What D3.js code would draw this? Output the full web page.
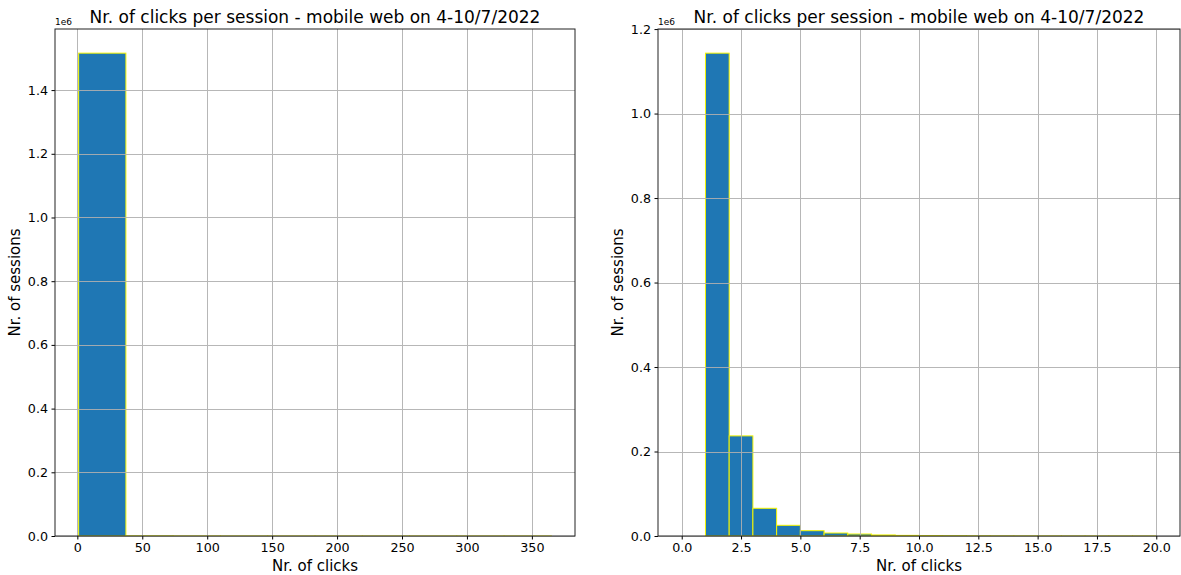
<!DOCTYPE html>
<html>
<head>
<meta charset="utf-8">
<script src="https://cdn.jsdelivr.net/npm/d3@7"></script>
<style>
  body { margin: 0; background: #fff; }
  svg { font-family: "DejaVu Sans", sans-serif; }
</style>
</head>
<body>
<svg id="chart" width="1181" height="575"></svg>
<script>
// left: histogram of all sessions, 10 bins over 1..365 clicks
var leftMin = 1, leftMax = 365;
var leftCounts = [1516000, 500, 150, 60, 30, 15, 8, 4, 2, 1];
var leftXTicks = [0, 50, 100, 150, 200, 250, 300, 350];
var leftYTicks = [0, 0.2e6, 0.4e6, 0.6e6, 0.8e6, 1.0e6, 1.2e6, 1.4e6];

// right: histogram restricted to 0..20 clicks, bins of width 1
var rightMin = 0, rightMax = 20;
var rightCounts = [0, 1143000, 237000, 65600, 25300, 12600, 7100, 4700, 2500, 1500,
                   1000, 700, 450, 300, 200, 150, 100, 70, 50, 30];
var rightXTicks = [0, 2.5, 5, 7.5, 10, 12.5, 15, 17.5, 20];
var rightYTicks = [0, 0.2e6, 0.4e6, 0.6e6, 0.8e6, 1.0e6, 1.2e6];

var titleText = "Nr. of clicks per session - mobile web on 4-10/7/2022";

var svg = d3.select("#chart");

function drawHist(opts) {
  var g = svg.append("g").attr("transform", `translate(${opts.left}, ${opts.top})`);
  var w = opts.width, h = opts.height;

  var n = opts.counts.length;
  var step = (opts.max - opts.min) / n;
  var bins = opts.counts.map((c, i) => ({x0: opts.min + i * step, x1: opts.min + (i + 1) * step, n: c}));

  var pad = (opts.max - opts.min) * 0.05;
  var x = d3.scaleLinear().domain([opts.min - pad, opts.max + pad]).range([0, w]);
  var y = d3.scaleLinear().domain([0, d3.max(opts.counts) * 1.05]).range([h, 0]);

  g.selectAll("rect.bar")
    .data(bins)
    .enter()
    .append("rect")
    .attr("class", "bar")
    .attr("x", d => x(d.x0))
    .attr("width", d => x(d.x1) - x(d.x0))
    .attr("y", d => y(d.n))
    .attr("height", d => h - y(d.n))
    .attr("fill", "#1f77b4")
    .attr("stroke", "#f5f500")
    .attr("stroke-width", 1);

  // grid on top of bars
  var grid = g.append("g").attr("stroke", "#b0b0b0").attr("stroke-width", 1).attr("opacity", 0.9);
  grid.selectAll("line.gx").data(opts.xTicks).enter().append("line")
    .attr("x1", d => Math.round(x(d)) + 0.5).attr("x2", d => Math.round(x(d)) + 0.5)
    .attr("y1", 0).attr("y2", h);
  grid.selectAll("line.gy").data(opts.yTicks).enter().append("line")
    .attr("y1", d => Math.round(y(d)) + 0.5).attr("y2", d => Math.round(y(d)) + 0.5)
    .attr("x1", 0).attr("x2", w);

  var fmtY = d => d3.format(".1f")(d / 1e6);
  var xAxis = g.append("g").attr("transform", `translate(0, ${h})`)
    .call(d3.axisBottom(x).tickValues(opts.xTicks).tickFormat(opts.xFormat).tickSize(3.5).tickPadding(3.5));
  var yAxis = g.append("g")
    .call(d3.axisLeft(y).tickValues(opts.yTicks).tickFormat(fmtY).tickSize(3.5).tickPadding(3.5));
  [xAxis, yAxis].forEach(a => {
    a.select(".domain").remove();
    a.selectAll("text").attr("font-size", 12.7).attr("fill", "#000").attr("font-family", "DejaVu Sans");
    a.selectAll("line").attr("stroke", "#000");
  });

  // frame
  g.append("rect").attr("x", 0).attr("y", 0).attr("width", w).attr("height", h)
    .attr("fill", "none").attr("stroke", "#222").attr("stroke-width", 1);

  g.append("text").attr("x", 0).attr("y", -4).attr("font-size", 9).text("1e6");

  g.append("text").attr("x", w / 2).attr("y", -6).attr("text-anchor", "middle")
    .attr("font-size", 17).text(titleText);
  g.append("text").attr("x", w / 2).attr("y", h + 35).attr("text-anchor", "middle")
    .attr("font-size", 15).text("Nr. of clicks");
  g.append("text").attr("transform", `translate(${opts.ylabX}, ${h / 2}) rotate(-90)`)
    .attr("text-anchor", "middle").attr("font-size", 15).text("Nr. of sessions");
}

drawHist({left: 55, top: 29, width: 520, height: 507,
  min: leftMin, max: leftMax, counts: leftCounts,
  xTicks: leftXTicks, yTicks: leftYTicks, xFormat: d3.format("d"), ylabX: -35});

drawHist({left: 658, top: 29, width: 522, height: 507,
  min: rightMin, max: rightMax, counts: rightCounts,
  xTicks: rightXTicks, yTicks: rightYTicks, xFormat: d3.format(".1f"), ylabX: -35});
</script>
</body>
</html>
